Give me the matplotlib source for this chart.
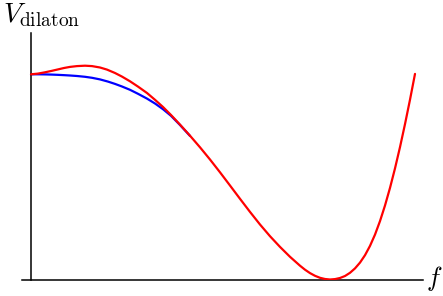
import matplotlib
matplotlib.use("Agg")
import matplotlib.pyplot as plt
import numpy as np

plt.rcParams['mathtext.fontset'] = 'cm'

# values, in pixel units of the reference
red_px = [31, 38, 45, 52, 58, 64, 70, 77, 85, 92, 100, 107, 115, 122, 130, 138, 147,
          155, 163, 171, 180, 190, 200, 210, 220, 230, 240, 250, 260, 270, 280, 290,
          300, 305, 310, 315, 320, 325, 330, 335, 340, 345, 350, 355, 360, 365, 370,
          375, 380, 385, 390, 395, 400, 405, 410, 415]
red_py = [74.3, 73.6, 72.3, 70.8, 69.4, 68.0, 66.9, 66.1, 65.7, 66.1, 67.5, 69.6, 73.0,
          76.6, 81.3, 86.6, 93.0, 99.8, 107.0, 115.0, 124.6, 135.7, 147.3, 159.5, 172.3,
          185.5, 198.8, 211.9, 224.5, 236.2, 246.9, 256.8, 265.7, 269.7, 273.1, 275.8,
          277.8, 279.0, 279.5, 279.1, 278.0, 276.0, 272.8, 268.4, 262.6, 255.2, 245.9,
          234.6, 221.1, 205.5, 187.9, 168.4, 147.1, 124.1, 99.7, 73.9]
blue_px = [31, 38, 45, 52, 58, 64, 70, 77, 85, 92, 100, 108, 115, 122, 130, 138, 147,
           155, 163, 171, 180, 190]
blue_py = [74.3, 74.3, 74.4, 74.6, 74.85, 75.15, 75.5, 76.0, 76.8, 77.8, 79.4, 81.6,
           83.9, 86.5, 89.8, 93.8, 98.6, 103.5, 109.2, 115.8, 125.0, 135.9]

# convert to data units: minimum at f = 1, V(0) = 1
f_red = (np.array(red_px) - 31) / 299.0
V_red = (280 - np.array(red_py)) / 206.0
f_blue = (np.array(blue_px) - 31) / 299.0
V_blue = (280 - np.array(blue_py)) / 206.0

W, H = 443, 296
fig = plt.figure(figsize=(W / 100, H / 100), dpi=100)
ax = fig.add_axes([22 / W, 1 - 280 / H, (423 - 22) / W, (280 - 33) / H])
ax.set_xlim((22 - 31) / 299.0, (423 - 31) / 299.0)
ax.set_ylim(0, (280 - 33) / 206.0)

ax.plot(f_blue, V_blue, color='#0000ff', lw=1.6, solid_capstyle='round',
        solid_joinstyle='round', zorder=2)
ax.plot(f_red, V_red, color='#ff0000', lw=1.6, solid_capstyle='round',
        solid_joinstyle='round', zorder=3)

for s in ['top', 'right']:
    ax.spines[s].set_visible(False)
ax.spines['left'].set_position(('data', 0))
ax.spines['left'].set_linewidth(1.1)
ax.spines['bottom'].set_linewidth(1.1)
ax.set_xticks([])
ax.set_yticks([])
ax.patch.set_alpha(0)

fig.text(3 / W, 1 - 22 / H, r'$V_{\rm dilaton}$', fontsize=20, ha='left', va='baseline')
fig.text(426 / W, 1 - 286 / H, r'$f$', fontsize=19, ha='left', va='baseline')

fig.savefig('out.png', dpi=100)
